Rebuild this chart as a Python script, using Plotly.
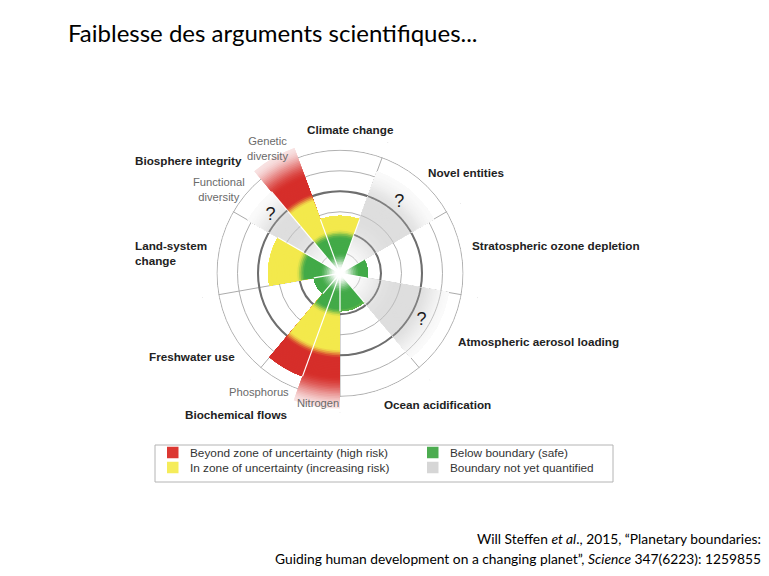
import numpy as np
import plotly.graph_objects as go

# ---------------- data ----------------
boundary_names = ["Climate change", "Novel entities", "Stratospheric ozone depletion",
                  "Atmospheric aerosol loading", "Ocean acidification", "Biochemical flows",
                  "Freshwater use", "Land-system change", "Biosphere integrity"]
# sub-wedges for each boundary (in clockwise order)
sub_wedges = [[""], [""], [""], [""], [""], ["Nitrogen", "Phosphorus"], [""], [""],
              ["Functional diversity", "Genetic diversity"]]
# control variable, in units of the ring spacing (boundary = 2, top of uncertainty zone = 4)
values = [2.8, 5.3, 1.35, 5.4, 1.85, 6.6, 5.35, 1.3, 3.5, 5.2, 6.5]
quantified = [True, False, True, False, True, True, True, True, True, False, True]
BOUNDARY = 2.0
UPPER = 4.0
OUTER = 6.0
rings = [1, 2, 3, 4, 5, 6]

legend_labels = ["Beyond zone of uncertainty (high risk)", "In zone of uncertainty (increasing risk)",
                 "Below boundary (safe)", "Boundary not yet quantified"]

# ---------------- geometry from the sector structure ----------------
n_b = len(boundary_names)
sector = 360 / n_b
thetas, widths = [], []
for i, subs in enumerate(sub_wedges):
    start = i * sector - sector / 2
    w = sector / len(subs)
    for j in range(len(subs)):
        thetas.append(start + w * (j + 0.5))
        widths.append(w)
edges_b = [i * sector - sector / 2 for i in range(n_b)]

# ---------------- colours ----------------
WHITE = (255, 255, 255)
GREEN = (66, 170, 72)
YELLOW = (243, 233, 76)
RED = (214, 46, 42)
PALE = (248, 226, 226)
GRAY = (222, 222, 222)
GRAY_END = (250, 250, 250)


def lerp(c1, c2, f):
    return tuple(c1[k] + (c2[k] - c1[k]) * f for k in range(3))


def smooth(x, a, b):
    f = min(max((x - a) / (b - a), 0.0), 1.0)
    return f * f * (3 - 2 * f)


def rgb(c):
    return "rgb(%d,%d,%d)" % tuple(int(round(v)) for v in c)


def wedge_color(r, L, q):
    if q:
        c = lerp(WHITE, GREEN, smooth(r, 0.15, 1.0))
        c = lerp(c, YELLOW, smooth(r, BOUNDARY - 0.3, BOUNDARY + 0.15))
        c = lerp(c, RED, smooth(r, UPPER - 0.3, UPPER + 0.15))
        if L > OUTER:
            c = lerp(c, PALE, smooth(r, L - 1.6, L))
    else:
        c = lerp(WHITE, GRAY, smooth(r, 0.2, 2.8))
        c = lerp(c, GRAY_END, smooth(r, L - 1.6, L))
    return rgb(c)


fig = go.Figure()

# dark rings (boundary and top of uncertainty zone) - below the wedges
for rr in (BOUNDARY, UPPER):
    fig.add_trace(go.Barpolar(r=[0.1, 0.1], base=[rr - 0.05, rr - 0.05], theta=[90, 270], width=[180, 180],
                              marker=dict(color="#6e6e6e", line=dict(width=0)),
                              showlegend=False, hoverinfo="skip"))
# white cover beyond the outer ring (hides spokes there)
fig.add_trace(go.Barpolar(r=[0.9, 0.9], base=[OUTER + 0.035] * 2, theta=[90, 270], width=[180, 180],
                          marker=dict(color="white", line=dict(width=0)),
                          showlegend=False, hoverinfo="skip"))

# gradient wedges: painter's algorithm, largest radii first
step = 0.08
band_edges = np.arange(step, max(values) + step, step)
for t in band_edges[::-1]:
    rs, cols = [], []
    for L, q in zip(values, quantified):
        rr = min(t, L)
        rs.append(rr)
        cols.append(wedge_color(rr - step / 2, L, q))
    fig.add_trace(go.Barpolar(r=rs, base=[0] * len(rs), theta=thetas, width=widths,
                              marker=dict(color=cols, line=dict(width=0)),
                              showlegend=False, hoverinfo="skip"))

# white separation lines between adjacent wedges
sep_r, sep_t = [], []
n_w = len(values)
for i in range(n_w):
    j = (i + 1) % n_w
    b = thetas[i] + widths[i] / 2
    sep_r += [0, min(values[i], values[j]), None]
    sep_t += [b, b, None]
fig.add_trace(go.Scatterpolar(r=sep_r, theta=sep_t, mode="lines",
                              line=dict(color="white", width=1.2),
                              showlegend=False, hoverinfo="skip"))

# rings seen through the translucent grey (unquantified) wedges
for dark in (False, True):
    ar, at = [], []
    for th, w, L, q in zip(thetas, widths, values, quantified):
        if q:
            continue
        for k in rings:
            if ((k in (BOUNDARY, UPPER)) == dark) and k < L - 0.3:
                a = np.linspace(th - w / 2, th + w / 2, 41)
                ar += [k] * len(a) + [None]
                at += list(a) + [None]
    fig.add_trace(go.Scatterpolar(r=ar, theta=at, mode="lines",
                                  line=dict(color="rgba(95,95,95,0.75)" if dark else "rgba(170,170,170,0.7)",
                                            width=1.8 if dark else 1),
                                  showlegend=False, hoverinfo="skip"))

# question marks on the unquantified wedges
qr = [0.85 * L for L, q in zip(values, quantified) if not q]
qt = [th for th, q in zip(thetas, quantified) if not q]
fig.add_trace(go.Scatterpolar(r=qr, theta=qt, mode="text", text=["?"] * len(qr),
                              textfont=dict(family="Arial, Liberation Sans", size=18, color="#1a1a1a"),
                              showlegend=False, hoverinfo="skip"))

# ---------------- layout ----------------
W, H = 769, 576
cx, cy, unit = 340, 273.3, 20.5
rmax = 6.8
rad = rmax * unit


def px(x):
    return x / W


def py(y):
    return 1 - y / H


fig.update_layout(
    width=W, height=H, margin=dict(l=0, r=0, t=0, b=0),
    paper_bgcolor="white", plot_bgcolor="white", showlegend=False,
    polar=dict(
        domain=dict(x=[px(cx - rad), px(cx + rad)], y=[py(cy + rad), py(cy - rad)]),
        bgcolor="white", barmode="overlay",
        angularaxis=dict(rotation=90, direction="clockwise", tickmode="array", tickvals=edges_b,
                         showticklabels=False, ticks="", showline=False,
                         gridcolor="#ababab", gridwidth=1),
        radialaxis=dict(range=[0, rmax], tickmode="array", tickvals=rings,
                        showticklabels=False, ticks="", showline=False,
                        gridcolor="#b0b0b0", gridwidth=1),
    ),
)

ann = []
BOLD = dict(family="Arial, Liberation Sans", size=11.7, color="#222222")
SUB = dict(family="Arial, Liberation Sans", size=11.2, color="#6a6a6a")


def label(text, x, y, xa="left", font=BOLD, bold=True):
    ann.append(dict(text=("<b>%s</b>" % text) if bold else text, x=px(x), y=py(y), xref="paper", yref="paper",
                    xanchor=xa, yanchor="middle", showarrow=False, font=font, align=xa))


label(boundary_names[0], 350, 129, "center")
label(boundary_names[1], 466, 172, "center")
label(boundary_names[2], 470, 246)
label(boundary_names[3], 456, 341)
label("Ocean acidification", 382, 404)
label(boundary_names[5], 183, 414)
label(boundary_names[6], 147, 356)
label("Land-system<br>change", 133, 253)
label(boundary_names[8], 133, 160)
label("Genetic<br>diversity", 267, 148, "center", SUB, False)
label("Functional<br>diversity", 219, 189, "center", SUB, False)
label("Phosphorus", 227, 392, "left", SUB, False)
label("Nitrogen", 295, 403, "left", SUB, False)

# title and citation
ann.append(dict(text="Faiblesse des arguments scientifiques...", x=px(66), y=py(33), xref="paper", yref="paper",
                xanchor="left", yanchor="middle", showarrow=False,
                font=dict(family="Lato", size=24, color="black")))
ann.append(dict(text="Will Steffen <i>et al</i>., 2015, “Planetary boundaries:", x=px(763), y=py(538),
                xref="paper", yref="paper", xanchor="right", yanchor="middle", showarrow=False,
                font=dict(family="Lato", size=13.8, color="black")))
ann.append(dict(text="Guiding human development on a changing planet”, <i>Science</i> 347(6223): 1259855",
                x=px(763), y=py(558), xref="paper", yref="paper", xanchor="right", yanchor="middle",
                showarrow=False, font=dict(family="Lato", size=13.8, color="black")))

# legend box
shapes = [dict(type="rect", xref="paper", yref="paper", x0=px(155), x1=px(613), y0=py(482), y1=py(445),
               line=dict(color="#b4b4b4", width=1), fillcolor="rgba(0,0,0,0)")]
leg_cols = [rgb((220, 56, 50)), rgb((245, 236, 90)), rgb((76, 172, 80)), rgb((214, 214, 214))]
leg_pos = [(167, 452.5), (167, 467.5), (427, 452.5), (427, 467.5)]
for lab, col, (lx, ly) in zip(legend_labels, leg_cols, leg_pos):
    shapes.append(dict(type="rect", xref="paper", yref="paper", x0=px(lx), x1=px(lx + 11.5),
                       y0=py(ly + 5.75), y1=py(ly - 5.75), line=dict(width=0), fillcolor=col))
    ann.append(dict(text=lab, x=px(lx + 21), y=py(ly), xref="paper", yref="paper", xanchor="left",
                    yanchor="middle", showarrow=False,
                    font=dict(family="Arial, Liberation Sans", size=11.8, color="#333333")))

fig.update_layout(annotations=ann, shapes=shapes)
fig.write_html("out.html", config={"displayModeBar": False},
               post_script="document.body.style.margin='0px';")
